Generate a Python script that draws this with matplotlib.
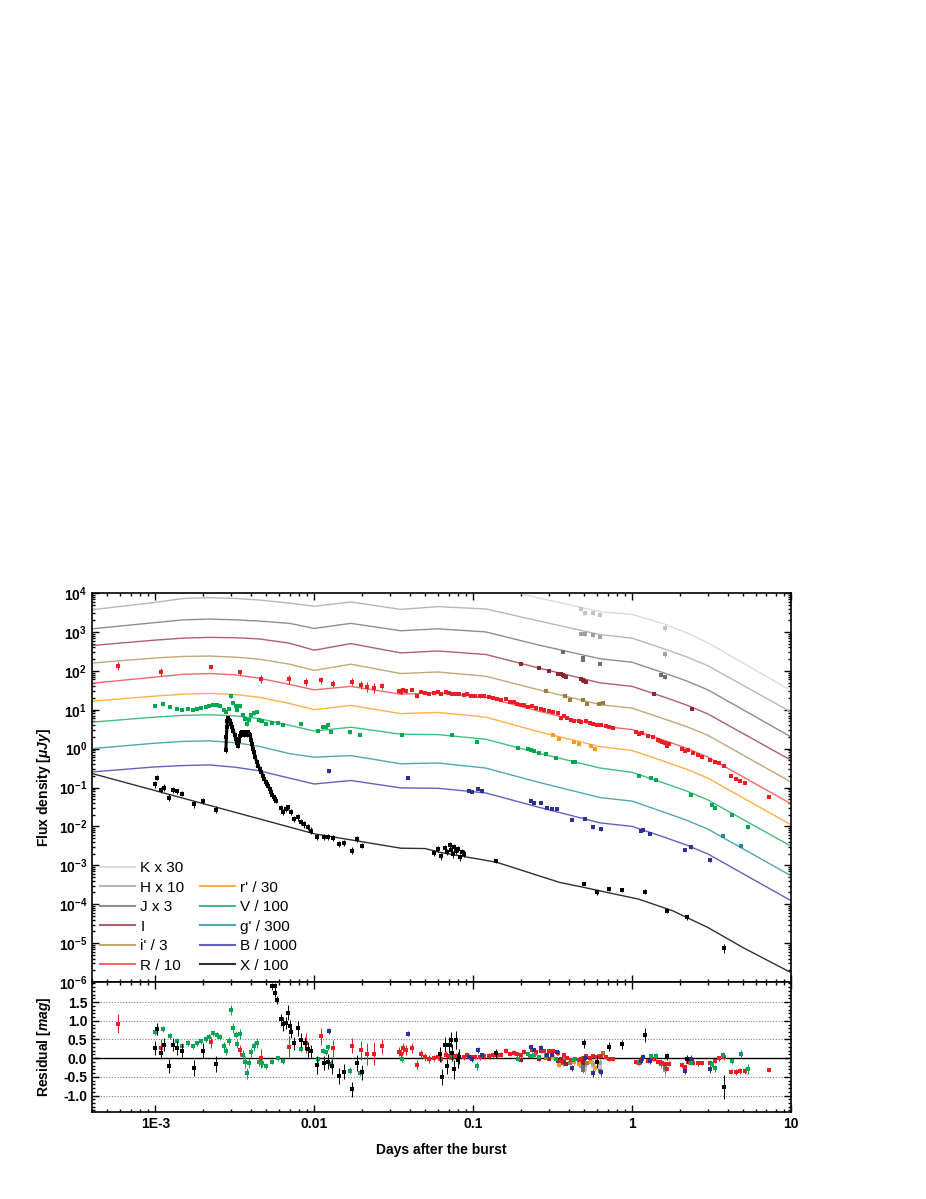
import numpy as np
import matplotlib
matplotlib.use('Agg')
import matplotlib.pyplot as plt
from matplotlib.lines import Line2D
from matplotlib.ticker import LogLocator, FuncFormatter, MultipleLocator, NullFormatter

plt.rcParams['font.family'] = ['Liberation Sans', 'DejaVu Sans']
plt.rcParams['mathtext.fontset'] = 'custom'
plt.rcParams['mathtext.rm'] = 'Liberation Sans'
plt.rcParams['mathtext.bf'] = 'Liberation Sans:bold'
plt.rcParams['mathtext.it'] = 'Liberation Sans:italic:bold'

# ---- model light curves (log10 flux in uJy, already scaled as in legend)
T_model = [4e-4, 1e-3, 1.5e-3, 2.2e-3, 3.2e-3, 4.5e-3, 7e-3, 0.01, 0.017, 0.035, 0.06, 0.12, 0.26, 0.63, 1.0, 1.6, 2.2, 3.0, 10]
L_K = [4.26, 4.47, 4.58, 4.61, 4.59, 4.54, 4.41, 4.29, 4.41, 4.24, 4.29, 4.21, 3.87, 3.52, 3.45, 3.20, 2.98, 2.72, 1.49]
L_H = [3.57, 3.76, 3.86, 3.88, 3.86, 3.82, 3.74, 3.66, 3.77, 3.58, 3.65, 3.59, 3.28, 2.93, 2.84, 2.56, 2.36, 2.13, 0.94]
L_J = [3.08, 3.24, 3.31, 3.33, 3.31, 3.28, 3.22, 3.09, 3.22, 3.03, 3.08, 3.00, 2.66, 2.31, 2.22, 1.94, 1.74, 1.51, 0.30]
L_I = [2.65, 2.79, 2.84, 2.86, 2.85, 2.82, 2.71, 2.53, 2.70, 2.46, 2.51, 2.42, 2.07, 1.69, 1.60, 1.32, 1.12, 0.89, -0.30]
L_ip = [2.20, 2.33, 2.37, 2.38, 2.35, 2.30, 2.17, 2.01, 2.17, 1.93, 1.97, 1.86, 1.51, 1.13, 1.04, 0.76, 0.565, 0.34, -0.86]
L_R = [1.68, 1.84, 1.91, 1.93, 1.895, 1.81, 1.65, 1.51, 1.60, 1.40, 1.43, 1.32, 0.96, 0.58, 0.49, 0.21, 0.01, -0.22, -1.42]
L_rp = [1.22, 1.35, 1.40, 1.42, 1.39, 1.32, 1.16, 1.00, 1.11, 0.90, 0.93, 0.81, 0.43, 0.05, -0.05, -0.33, -0.53, -0.76, -1.96]
L_V = [0.68, 0.81, 0.855, 0.87, 0.84, 0.77, 0.60, 0.45, 0.55, 0.37, 0.36, 0.24, -0.12, -0.50, -0.61, -0.89, -1.09, -1.32, -2.51]
L_g = [0.00, 0.14, 0.185, 0.20, 0.15, 0.06, -0.13, -0.22, -0.18, -0.39, -0.37, -0.50, -0.87, -1.26, -1.35, -1.64, -1.84, -2.07, -3.27]
L_B = [-0.60, -0.47, -0.435, -0.42, -0.48, -0.57, -0.76, -0.91, -0.82, -1.01, -1.02, -1.14, -1.51, -1.91, -2.00, -2.28, -2.48, -2.71, -3.91]

T_X = [4e-4, 0.01, 0.035, 0.05, 0.062, 0.14, 0.35, 0.5, 0.7, 1.1, 1.8, 3.0, 5.0, 10]
L_X = [-0.64, -2.19, -2.56, -2.57, -2.67, -2.92, -3.44, -3.57, -3.70, -3.87, -4.17, -4.60, -5.12, -5.76]

# ---- photometry (days, uJy scaled, error in dex)
K_t = [0.48, 0.505, 0.565, 0.626, 1.61]
K_f = [3800, 3100, 3000, 2700, 1270]
K_e = [0.05, 0.06, 0.05, 0.05, 0.08]

H_t = [0.48, 0.505, 0.565, 0.626, 1.61]
H_f = [900, 880, 820, 760, 270]
H_e = [0.04, 0.04, 0.04, 0.04, 0.07]

J_t = [0.365, 0.49, 0.49, 0.626, 1.52, 1.61]
J_f = [300, 210, 190, 150, 80, 68]
J_e = [0.03, 0.03, 0.03, 0.03, 0.04, 0.05]

I_t = [0.2, 0.26, 0.3, 0.34, 0.35, 0.355, 0.365, 0.375, 0.384, 0.477, 0.49, 0.5, 0.51, 1.38, 2.38]
I_f = [148, 115, 100, 84, 82, 85, 77, 74, 70, 60, 57, 55, 53, 25, 10.7]
I_e = [0.02, 0.02, 0.015, 0.015, 0.015, 0.015, 0.015, 0.015, 0.015, 0.015, 0.015, 0.015, 0.015, 0.02, 0.02]

ip_t = [0.287, 0.378, 0.409, 0.49, 0.52, 0.62, 0.66]
ip_f = [29.8, 22.4, 18.3, 17.4, 14.4, 14.4, 14.9]
ip_e = [0.02, 0.02, 0.02, 0.02, 0.02, 0.02, 0.02]

R_t = [5.8e-4, 1.09e-3, 2.25e-3, 3.4e-3, 4.6e-3, 6.9e-3, 8.9e-3, 0.0111, 0.0132, 0.0174,
       0.0196, 0.0214, 0.0238, 0.0265, 0.034, 0.035, 0.036, 0.038, 0.041, 0.044,
       0.047, 0.05, 0.053, 0.057, 0.06, 0.063, 0.067, 0.07, 0.074, 0.078,
       0.082, 0.087, 0.092, 0.097, 0.103, 0.11, 0.117, 0.125, 0.133, 0.142,
       0.15, 0.16, 0.17, 0.18, 0.19, 0.2, 0.21, 0.22, 0.235, 0.25,
       0.267, 0.28, 0.3, 0.32, 0.34, 0.357, 0.37, 0.39, 0.41, 0.43,
       0.46, 0.48, 0.51, 0.54, 0.57, 0.6, 0.64, 0.68, 0.72, 0.76,
       1.05, 1.1, 1.15, 1.25, 1.35, 1.45, 1.5, 1.55, 1.6, 1.65,
       1.7, 2.05, 2.15, 2.25, 2.4, 2.6, 2.75, 3.1, 3.3, 3.5,
       3.8, 4.2, 4.5, 4.8, 5.1, 7.3]
R_f = [130, 92, 125, 92, 63, 60, 52, 58, 46, 53,
       44, 38, 36, 40, 30, 28, 32, 31, 33, 22,
       29, 27, 26, 27, 28, 26, 28, 27, 25, 26,
       25, 24, 25, 23, 23, 22, 22, 21, 20, 19,
       18, 18.5, 16, 15.5, 14, 13, 13.5, 12, 12.5, 11,
       10.6, 10, 9.5, 8.8, 8.0, 6.0, 7.0, 6.2, 5.6, 5.2,
       5.0, 4.9, 5.0, 4.5, 4.4, 4.1, 4.0, 3.8, 3.5, 3.4,
       2.6, 2.4, 2.5, 2.1, 2.0, 1.7, 1.6, 1.5, 1.4, 1.2,
       1.3, 0.95, 0.85, 0.9, 0.78, 0.68, 0.62, 0.5, 0.45, 0.42,
       0.36, 0.2, 0.17, 0.15, 0.13, 0.058]
R_e = [0.10, 0.10, 0.06, 0.06, 0.10, 0.11, 0.11, 0.09, 0.09, 0.08,
       0.10, 0.12, 0.12, 0.08, 0.05, 0.05, 0.06, 0.05, 0.05, 0.05,
       0.04, 0.04, 0.04, 0.03, 0.04, 0.03, 0.04, 0.03, 0.03, 0.03,
       0.03, 0.03, 0.03, 0.03, 0.03, 0.03, 0.03, 0.03, 0.03, 0.03,
       0.025, 0.025, 0.025, 0.025, 0.025, 0.025, 0.025, 0.025, 0.025, 0.025,
       0.02, 0.02, 0.02, 0.02, 0.02, 0.03, 0.02, 0.02, 0.02, 0.02,
       0.02, 0.02, 0.02, 0.02, 0.02, 0.02, 0.02, 0.02, 0.02, 0.02,
       0.02, 0.02, 0.02, 0.02, 0.02, 0.02, 0.02, 0.02, 0.02, 0.02,
       0.025, 0.025, 0.025, 0.025, 0.025, 0.025, 0.025, 0.025, 0.025, 0.025,
       0.03, 0.03, 0.03, 0.03, 0.035, 0.02]

rp_t = [0.32, 0.345, 0.433, 0.46, 0.55, 0.585]
rp_f = [2.28, 1.73, 1.47, 1.34, 1.16, 0.95]
rp_e = [0.025, 0.025, 0.025, 0.025, 0.025, 0.03]

V_t = [1.0e-3, 1.12e-3, 1.23e-3, 1.36e-3, 1.48e-3, 1.60e-3, 1.73e-3, 1.84e-3, 1.95e-3, 2.07e-3,
       2.19e-3, 2.32e-3, 2.44e-3, 2.56e-3, 2.70e-3, 2.79e-3, 2.90e-3, 3.0e-3, 3.1e-3, 3.2e-3,
       3.26e-3, 3.43e-3, 3.56e-3, 3.68e-3, 3.77e-3, 3.88e-3, 4.0e-3, 4.17e-3, 4.34e-3, 4.5e-3,
       4.7e-3, 5.0e-3, 5.4e-3, 5.9e-3, 6.4e-3, 8.3e-3, 0.0106, 0.0114, 0.0119, 0.0122,
       0.0127, 0.0169, 0.0194, 0.0356, 0.074, 0.106, 0.192, 0.222, 0.231, 0.242,
       0.261, 0.287, 0.332, 0.423, 0.437, 1.11, 1.32, 1.42, 2.35, 3.2,
       3.3, 4.25, 5.35]
V_f = [12.4, 13.7, 11.8, 10.7, 9.7, 10.5, 9.7, 10.5, 11.1, 11.8,
       12.4, 13.5, 12.9, 12.2, 9.7, 8.5, 10.7, 23, 14.7, 12.4,
       9.7, 12.2, 7.2, 5.9, 4.4, 5.6, 7.2, 8.2, 8.7, 5.3,
       5.0, 4.4, 4.6, 4.6, 4.0, 4.2, 2.8, 3.6, 3.5, 4.0,
       2.7, 2.6, 2.3, 2.3, 2.3, 1.5, 1.03, 1.0, 0.9, 0.88,
       0.78, 0.73, 0.58, 0.45, 0.44, 0.195, 0.178, 0.16, 0.065, 0.036,
       0.030, 0.020, 0.0098]
V_e = [0.03, 0.03, 0.03, 0.03, 0.03, 0.03, 0.03, 0.03, 0.03, 0.03,
       0.03, 0.03, 0.03, 0.03, 0.04, 0.04, 0.04, 0.05, 0.05, 0.04,
       0.04, 0.05, 0.05, 0.06, 0.06, 0.05, 0.05, 0.05, 0.05, 0.04,
       0.04, 0.03, 0.03, 0.03, 0.03, 0.03, 0.03, 0.03, 0.03, 0.03,
       0.04, 0.04, 0.04, 0.03, 0.03, 0.04, 0.02, 0.02, 0.02, 0.02,
       0.02, 0.02, 0.02, 0.02, 0.02, 0.02, 0.02, 0.03, 0.03, 0.03,
       0.04, 0.03, 0.05]

g_t = [3.73, 4.87]
g_f = [0.0056, 0.0031]
g_e = [0.03, 0.04]

B_t = [0.0123, 0.039, 0.094, 0.099, 0.107, 0.114, 0.231, 0.242, 0.267, 0.29,
       0.313, 0.335, 0.417, 0.506, 0.568, 0.64, 1.13, 1.17, 1.30, 2.16,
       2.35, 3.1]
B_f = [0.26, 0.178, 0.083, 0.076, 0.093, 0.079, 0.046, 0.041, 0.039, 0.030,
       0.0276, 0.0274, 0.0148, 0.0155, 0.0095, 0.0086, 0.0078, 0.0083, 0.0065, 0.0025,
       0.0029, 0.0014]
B_e = [0.03, 0.03, 0.03, 0.03, 0.03, 0.03, 0.025, 0.025, 0.025, 0.025,
       0.025, 0.025, 0.03, 0.03, 0.04, 0.04, 0.03, 0.03, 0.03, 0.04,
       0.04, 0.05]

X_t = [9.9e-4, 1.03e-3, 1.08e-3, 1.14e-3, 1.22e-3, 1.30e-3, 1.37e-3, 1.47e-3, 1.74e-3, 2.01e-3, 2.42e-3,
       6.14e-3, 6.4e-3, 6.6e-3, 6.8e-3, 7.1e-3, 7.5e-3, 7.9e-3, 8.2e-3, 8.6e-3, 9.1e-3, 9.6e-3,
       0.0104, 0.0115, 0.0122, 0.0132, 0.0143, 0.0155, 0.0174, 0.0187, 0.0201,
       0.057, 0.060, 0.063, 0.066, 0.068, 0.071, 0.072, 0.075, 0.076, 0.078, 0.080, 0.083, 0.085, 0.088,
       0.139, 0.50, 0.60, 0.72, 0.865, 1.21, 1.65, 2.2, 3.8]
X_f = [0.12, 0.18, 0.087, 0.10, 0.054, 0.087, 0.08, 0.069, 0.037, 0.046, 0.027,
       0.030, 0.023, 0.028, 0.031, 0.023, 0.0155, 0.017, 0.0128, 0.0112, 0.0096, 0.0078,
       0.0052, 0.0054, 0.0054, 0.005, 0.0036, 0.0038, 0.0024, 0.0047, 0.0032,
       0.0021, 0.0026, 0.0017, 0.0028, 0.0022, 0.0033, 0.0025, 0.0019, 0.0030, 0.0024, 0.0026, 0.0016, 0.0022, 0.0020,
       0.0013, 3.4e-4, 2.0e-4, 2.45e-4, 2.35e-4, 2.1e-4, 6.8e-5, 4.6e-5, 7.4e-6]
X_e = [0.08, 0.07, 0.08, 0.08, 0.09, 0.07, 0.07, 0.07, 0.09, 0.08, 0.09,
       0.07, 0.08, 0.07, 0.07, 0.08, 0.08, 0.08, 0.08, 0.08, 0.08, 0.08,
       0.07, 0.07, 0.07, 0.07, 0.08, 0.08, 0.09, 0.07, 0.07,
       0.08, 0.08, 0.09, 0.08, 0.08, 0.08, 0.08, 0.09, 0.08, 0.08, 0.08, 0.09, 0.08, 0.08,
       0.06, 0.05, 0.06, 0.05, 0.05, 0.06, 0.07, 0.07, 0.12]

# X-ray flare (dense)
Xf_t = [2.78e-3, 2.80e-3, 2.82e-3, 2.84e-3, 2.86e-3, 2.90e-3, 2.95e-3, 3.00e-3, 3.05e-3, 3.10e-3,
        3.15e-3, 3.20e-3, 3.25e-3, 3.30e-3, 3.35e-3, 3.40e-3, 3.45e-3, 3.50e-3, 3.55e-3, 3.60e-3,
        3.65e-3, 3.70e-3, 3.75e-3, 3.80e-3, 3.85e-3, 3.90e-3, 3.95e-3, 4.00e-3, 4.05e-3, 4.10e-3,
        4.17e-3, 4.25e-3, 4.35e-3, 4.45e-3, 4.55e-3, 4.65e-3, 4.75e-3, 4.85e-3, 4.95e-3, 5.05e-3,
        5.15e-3, 5.25e-3, 5.35e-3, 5.45e-3, 5.55e-3, 5.65e-3, 5.75e-3]
Xf_f = [0.9, 2.0, 3.5, 5.0, 6.0, 5.6, 5.0, 4.3, 3.6, 2.9,
        2.3, 1.8, 1.4, 1.2, 1.6, 2.1, 2.5, 2.7, 2.4, 2.2,
        2.5, 2.7, 2.5, 2.3, 2.6, 2.4, 2.2, 1.7, 1.3, 1.0,
        0.8, 0.6, 0.45, 0.36, 0.3, 0.25, 0.2, 0.17, 0.14, 0.12,
        0.11, 0.09, 0.075, 0.065, 0.058, 0.05, 0.045]

# X-ray residuals as plotted (mag)
Xr_t = [9.9e-4, 1.03e-3, 1.08e-3, 1.14e-3, 1.22e-3, 1.30e-3, 1.37e-3, 1.47e-3, 1.74e-3, 2.01e-3, 2.42e-3,
        5.41e-3, 5.63e-3, 5.70e-3, 5.83e-3,
        6.14e-3, 6.4e-3, 6.6e-3, 6.8e-3, 7.0e-3, 7.1e-3, 7.5e-3, 7.9e-3, 8.2e-3, 8.7e-3, 9.1e-3, 9.6e-3,
        0.0104, 0.0115, 0.0122, 0.0130, 0.0143, 0.0155, 0.0174, 0.0187, 0.0201,
        0.062, 0.064, 0.066, 0.068, 0.070, 0.072, 0.074, 0.076, 0.078, 0.080, 0.082,
        0.139, 0.50, 0.60, 0.72, 0.865, 1.21, 1.65, 2.2, 3.8]
Xr = [0.27, 0.78, 0.15, 0.36, -0.21, 0.36, 0.27, 0.20, -0.27, 0.20, -0.15,
      1.92, 1.92, 1.74, 1.56,
      1.04, 0.92, 0.94, 1.22, 0.85, 0.69, 0.40, 0.80, 0.49, 0.40, 0.24, 0.18,
      -0.18, -0.13, -0.09, -0.22, -0.47, -0.36, -0.83, -0.13, -0.38,
      0.10, -0.50, 0.36, -0.22, 0.36, 0.49, 0.15, -0.30, 0.49, -0.05, 0.04,
      0.13, 0.40, -0.10, 0.31, 0.37, 0.62, 0.05, -0.02, -0.76]
Xr_e = [0.18, 0.16, 0.18, 0.18, 0.2, 0.18, 0.18, 0.18, 0.22, 0.2, 0.22,
        0.1, 0.1, 0.1, 0.1,
        0.15, 0.18, 0.15, 0.2, 0.18, 0.15, 0.18, 0.2, 0.18, 0.18, 0.2, 0.18,
        0.25, 0.2, 0.2, 0.2, 0.22, 0.2, 0.2, 0.22, 0.2,
        0.2, 0.22, 0.2, 0.2, 0.22, 0.2, 0.22, 0.25, 0.25, 0.22, 0.2,
        0.12, 0.12, 0.15, 0.12, 0.12, 0.2, 0.1, 0.1, 0.32]

bands = [
    # label, t, f, e, model, data colour, line colour
    ('K x 30', K_t, K_f, K_e, L_K, '#c4c4c4', '#dcdcdc'),
    ('H x 10', H_t, H_f, H_e, L_H, '#a0a0a0', '#b8b8b8'),
    ('J x 3', J_t, J_f, J_e, L_J, '#6e6e6e', '#8e8e8e'),
    ('I', I_t, I_f, I_e, L_I, '#8c2634', '#b0606e'),
    ("i' / 3", ip_t, ip_f, ip_e, L_ip, '#9c7c3c', '#c0a878'),
    ('R / 10', R_t, R_f, R_e, L_R, '#ee1c24', '#f26a6a'),
    ("r' / 30", rp_t, rp_f, rp_e, L_rp, '#ff9a1e', '#ffb04a'),
    ('V / 100', V_t, V_f, V_e, L_V, '#00a651', '#40c080'),
    ("g' / 300", g_t, g_f, g_e, L_g, '#1e8c96', '#50a8b0'),
    ('B / 1000', B_t, B_f, B_e, L_B, '#2e3192', '#6262c0'),
]

fig = plt.figure(figsize=(9.26, 11.99), dpi=100)
ax = fig.add_axes([0.0994, 0.181, 0.7549, 0.3244])
axr = fig.add_axes([0.0994, 0.0726, 0.7549, 0.1084], sharex=ax)

ebkw = dict(fmt='s', ms=2.2, elinewidth=0.7, capsize=1.3, capthick=0.7, mew=0)

handles = {}
for label, t, f, e, Lm, dcol, lcol in bands:
    t = np.array(t); f = np.array(f); e = np.array(e)
    h, = ax.plot(T_model, 10 ** np.array(Lm), color=lcol, lw=1.0, zorder=2)
    handles[label] = h
    lo = f - f * 10 ** (-e)
    hi = f * 10 ** e - f
    ax.errorbar(t, f, yerr=[lo, hi], color=dcol, ecolor=dcol, zorder=3, **ebkw)
    model = 10 ** np.interp(np.log10(t), np.log10(T_model), Lm)
    res = 2.5 * np.log10(f / model)
    axr.errorbar(t, res, yerr=2.5 * e, color=dcol, ecolor=dcol, zorder=3, **ebkw)

# X-ray
hx, = ax.plot(T_X, 10 ** np.array(L_X), color='#303030', lw=1.0, zorder=2)
handles['X / 100'] = hx
xt = np.array(X_t); xf = np.array(X_f); xe = np.array(X_e)
ax.errorbar(xt, xf, yerr=[xf - xf * 10 ** (-xe), xf * 10 ** xe - xf], color='black', zorder=4, **ebkw)
ax.plot(Xf_t, Xf_f, color='black', lw=2.2, zorder=4)
ax.errorbar(Xf_t, Xf_f, yerr=np.array(Xf_f) * 0.12, color='black', zorder=4, **ebkw)
axr.errorbar(Xr_t, Xr, yerr=Xr_e, color='black', zorder=4, **ebkw)

# axes formatting
ax.set_xscale('log')
ax.set_yscale('log')
ax.set_xlim(4.0e-4, 10)
ax.set_ylim(1e-6, 1e4)
ax.yaxis.set_major_locator(LogLocator(base=10, numticks=20))
ax.yaxis.set_minor_locator(LogLocator(base=10, subs=np.arange(2, 10), numticks=200))
ax.yaxis.set_major_formatter(FuncFormatter(lambda v, p: r'$\mathbf{10^{%d}}$' % round(np.log10(v))))
ax.yaxis.set_minor_formatter(NullFormatter())
ax.xaxis.set_minor_locator(LogLocator(base=10, subs=np.arange(2, 10), numticks=200))

for a in (ax, axr):
    a.tick_params(which='both', direction='in', top=True, right=True, width=1.0)
    a.tick_params(which='major', length=5, labelsize=10)
    a.tick_params(which='minor', length=2.5)
    for s in a.spines.values():
        s.set_linewidth(1.2)

ax.tick_params(labelbottom=False)

axr.set_xticks([1e-3, 0.01, 0.1, 1, 10], ['1E-3', '0.01', '0.1', '1', '10'])
axr.xaxis.set_minor_locator(LogLocator(base=10, subs=np.arange(2, 10), numticks=200))
axr.xaxis.set_minor_formatter(NullFormatter())
axr.set_ylim(-1.44, 2.04)
axr.set_yticks([-1.0, -0.5, 0.0, 0.5, 1.0, 1.5], ['-1.0', '-0.5', '0.0', '0.5', '1.0', '1.5'])
axr.yaxis.set_minor_locator(MultipleLocator(0.1))
for lab in axr.get_xticklabels() + axr.get_yticklabels():
    lab.set_fontweight('bold')
for yv in [-1.0, -0.5, 0.5, 1.0, 1.5]:
    axr.axhline(yv, color='#808080', lw=0.8, ls=(0, (1, 1.5)), zorder=1)
axr.axhline(0.0, color='black', lw=1.0, zorder=1)

ax.set_ylabel(r'Flux density [$\mathit{\mu Jy}$]', fontsize=10, fontweight='bold')
axr.set_ylabel(r'Residual [$\mathit{mag}$]', fontsize=10, fontweight='bold')
ax.yaxis.set_label_coords(-0.056, 0.5)
axr.yaxis.set_label_coords(-0.056, 0.5)
axr.set_xlabel('Days after the burst', fontsize=10, fontweight='bold', labelpad=9)

blank = Line2D([], [], color='none')
order = ['K x 30', 'H x 10', 'J x 3', 'I', "i' / 3", 'R / 10']
order2 = ["r' / 30", 'V / 100', "g' / 300", 'B / 1000', 'X / 100']
hl = [Line2D([], [], color=handles[k].get_color(), lw=1.5) for k in order] + [blank] + \
     [Line2D([], [], color=handles[k].get_color(), lw=1.5) for k in order2]
ll = order + [' '] + order2
ax.legend(hl, ll, ncol=2, loc='upper left', bbox_to_anchor=(0.0, 0.33), frameon=False,
          fontsize=11, handlelength=2.3, handletextpad=0.35, columnspacing=1.0,
          labelspacing=0.36, borderaxespad=0.3, borderpad=0.2)

fig.savefig('out.png', dpi=100)
